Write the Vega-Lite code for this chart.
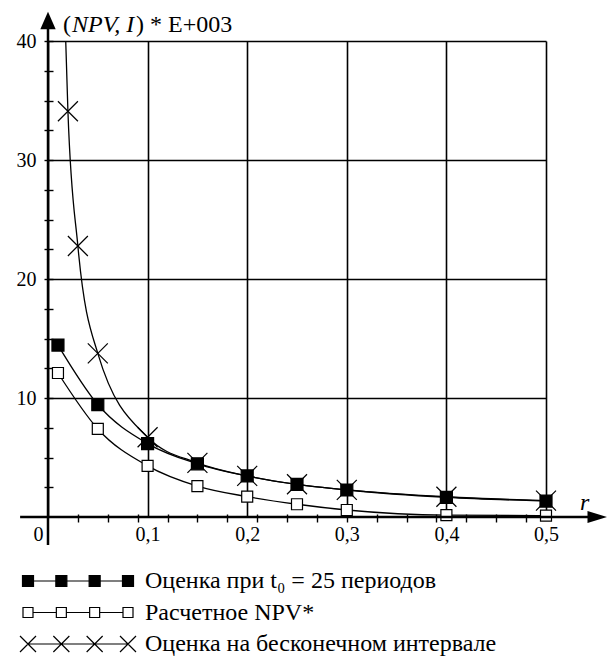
{
  "$schema": "https://vega.github.io/schema/vega-lite/v6.json",
  "width": 498,
  "height": 476,
  "autosize": {"type": "none"},
  "padding": {"left": 48, "top": 41, "right": 64, "bottom": 142},
  "background": "white",
  "config": {
    "view": {"stroke": null},
    "font": "Liberation Serif",
    "axis": {"labelFont": "Liberation Serif", "labelColor": "black", "labelFontSize": 20}
  },
  "datasets": {
    "curves": [
      {"s": "Оценка на бесконечном интервале", "r": 0.0178, "v": 40, "m": false},
      {"s": "Оценка на бесконечном интервале", "r": 0.02, "v": 34.1, "m": true},
      {"s": "Оценка на бесконечном интервале", "r": 0.03, "v": 22.77, "m": true},
      {"s": "Оценка на бесконечном интервале", "r": 0.05, "v": 13.75, "m": true},
      {"s": "Оценка на бесконечном интервале", "r": 0.1, "v": 6.7, "m": true},
      {"s": "Оценка на бесконечном интервале", "r": 0.15, "v": 4.55, "m": true},
      {"s": "Оценка на бесконечном интервале", "r": 0.2, "v": 3.45, "m": true},
      {"s": "Оценка на бесконечном интервале", "r": 0.25, "v": 2.75, "m": true},
      {"s": "Оценка на бесконечном интервале", "r": 0.3, "v": 2.28, "m": true},
      {"s": "Оценка на бесконечном интервале", "r": 0.4, "v": 1.7, "m": true},
      {"s": "Оценка на бесконечном интервале", "r": 0.5, "v": 1.38, "m": true},
      {"s": "Расчетное NPV*", "r": 0.01, "v": 12.1, "m": true},
      {"s": "Расчетное NPV*", "r": 0.05, "v": 7.4, "m": true},
      {"s": "Расчетное NPV*", "r": 0.1, "v": 4.3, "m": true},
      {"s": "Расчетное NPV*", "r": 0.15, "v": 2.6, "m": true},
      {"s": "Расчетное NPV*", "r": 0.2, "v": 1.71, "m": true},
      {"s": "Расчетное NPV*", "r": 0.25, "v": 1.07, "m": true},
      {"s": "Расчетное NPV*", "r": 0.3, "v": 0.59, "m": true},
      {"s": "Расчетное NPV*", "r": 0.4, "v": 0.15, "m": true},
      {"s": "Расчетное NPV*", "r": 0.5, "v": 0.12, "m": true},
      {"s": "Оценка при t₀ = 25 периодов", "r": 0.01, "v": 14.45, "m": true},
      {"s": "Оценка при t₀ = 25 периодов", "r": 0.05, "v": 9.45, "m": true},
      {"s": "Оценка при t₀ = 25 периодов", "r": 0.1, "v": 6.17, "m": true},
      {"s": "Оценка при t₀ = 25 периодов", "r": 0.15, "v": 4.47, "m": true},
      {"s": "Оценка при t₀ = 25 периодов", "r": 0.2, "v": 3.45, "m": true},
      {"s": "Оценка при t₀ = 25 периодов", "r": 0.25, "v": 2.74, "m": true},
      {"s": "Оценка при t₀ = 25 периодов", "r": 0.3, "v": 2.27, "m": true},
      {"s": "Оценка при t₀ = 25 периодов", "r": 0.4, "v": 1.65, "m": true},
      {"s": "Оценка при t₀ = 25 периодов", "r": 0.5, "v": 1.34, "m": true}
    ]
  },
  "resolve": {"axis": {"x": "independent", "y": "independent"}},
  "layer": [
    {
      "data": {"name": "curves"},
      "mark": {"type": "line", "interpolate": "monotone", "color": "black", "strokeWidth": 1.3},
      "encoding": {
        "x": {
          "field": "r", "type": "quantitative",
          "scale": {"domain": [0, 0.5], "nice": false, "zero": false},
          "axis": {
            "orient": "bottom", "title": null,
            "values": [0, 0.1, 0.2, 0.3, 0.4, 0.5],
            "labelExpr": "datum.value === 0 ? '0' : replace(format(datum.value, '.1f'), '.', ',')",
            "ticks": false, "tickSize": 0, "domain": false,
            "grid": true, "gridColor": "black", "gridWidth": 1.6, "gridOpacity": 1,
            "labelPadding": 7, "labelFontSize": 20, "labelFlush": false, "labelOverlap": false,
            "labelOffset": {"condition": {"test": "datum.value === 0", "value": -10}, "value": 0}
          }
        },
        "y": {
          "field": "v", "type": "quantitative",
          "scale": {"domain": [0, 40], "nice": false, "zero": false},
          "axis": {
            "orient": "left", "title": null,
            "values": [10, 20, 30, 40],
            "ticks": false, "tickSize": 0, "domain": false,
            "grid": true, "gridColor": "black", "gridWidth": 1.6, "gridOpacity": 1,
            "labelPadding": 12, "labelFontSize": 20, "labelFlush": false, "labelOverlap": false
          }
        },
        "detail": {"field": "s"}
      }
    },
    {
      "data": {"name": "curves"},
      "transform": [{"filter": "datum.m"}],
      "mark": {"type": "point", "size": 400, "opacity": 1, "stroke": "black", "strokeWidth": 1.2},
      "encoding": {
        "x": {
          "field": "r", "type": "quantitative",
          "scale": {"domain": [0, 0.5], "nice": false, "zero": false},
          "axis": {
            "orient": "bottom", "title": null,
            "values": [0.03, 0.06, 0.09, 0.12, 0.15, 0.18, 0.21, 0.24, 0.27, 0.3, 0.33, 0.36, 0.39, 0.42, 0.45, 0.48],
            "labels": false, "domain": false, "grid": false,
            "ticks": true, "tickSize": 8, "tickWidth": 1.4, "tickColor": "black", "offset": -3
          }
        },
        "y": {
          "field": "v", "type": "quantitative",
          "scale": {"domain": [0, 40], "nice": false, "zero": false},
          "axis": {
            "orient": "left", "title": null,
            "values": [2.5, 5, 7.5, 10, 12.5, 15, 17.5, 20, 22.5, 25, 27.5, 30, 32.5, 35, 37.5, 40],
            "labels": false, "domain": false, "grid": false,
            "ticks": true, "tickSize": 9, "tickWidth": 1.4, "tickColor": "black", "offset": -5
          }
        },
        "shape": {
          "field": "s", "type": "nominal",
          "scale": {
            "domain": ["Оценка на бесконечном интервале", "Расчетное NPV*", "Оценка при t₀ = 25 периодов"],
            "range": ["M-1,-1L1,1M1,-1L-1,1", "M-0.55,-0.55H0.55V0.55H-0.55Z", "M-0.6,-0.6H0.6V0.6H-0.6Z"]
          },
          "legend": null
        },
        "fill": {
          "field": "s", "type": "nominal",
          "scale": {
            "domain": ["Оценка при t₀ = 25 периодов", "Расчетное NPV*", "Оценка на бесконечном интервале"],
            "range": ["black", "white", "transparent"]
          },
          "legend": {
            "orient": "none", "legendX": -32, "legendY": 528, "padding": 0,
            "title": null, "symbolSize": 100, "symbolStrokeWidth": 1.2,
            "symbolType": {"expr": "datum.index === 0 ? 'M0,0H20M-1.1,-1.1H1.1V1.1H-1.1ZM5.57,-1.1H7.77V1.1H5.57ZM12.23,-1.1H14.43V1.1H12.23ZM18.9,-1.1H21.1V1.1H18.9Z' : datum.index === 1 ? 'M1,0H5.67M7.67,0H12.33M14.33,0H19M-1,-1H1V1H-1ZM5.67,-1H7.67V1H5.67ZM12.33,-1H14.33V1H12.33ZM19,-1H21V1H19Z' : 'M0,0H20M-1.6,-1.6L1.6,1.6M-1.6,1.6L1.6,-1.6M5.07,-1.6L8.27,1.6M5.07,1.6L8.27,-1.6M11.73,-1.6L14.93,1.6M11.73,1.6L14.93,-1.6M18.4,-1.6L21.6,1.6M18.4,1.6L21.6,-1.6'"},
            "labelFont": "Liberation Serif", "labelFontSize": 24, "labelColor": "black",
            "labelLimit": 600, "labelOffset": 105, "rowPadding": 7.5,
            "encode": {
              "symbols": {
                "stroke": {"value": "black"},
                "strokeWidth": {"value": 1.2},
                "opacity": {"value": 1}
              }
            }
          }
        }
      }
    },
    {
      "data": {"values": [{}]},
      "mark": {"type": "rule", "color": "black", "strokeWidth": 2.5},
      "encoding": {
        "x": {"datum": -0.028, "type": "quantitative", "axis": null},
        "x2": {"datum": 0.553},
        "y": {"datum": 0, "type": "quantitative", "axis": null}
      }
    },
    {
      "data": {"values": [{}]},
      "mark": {"type": "rule", "color": "black", "strokeWidth": 2.5},
      "encoding": {
        "x": {"datum": 0, "type": "quantitative", "axis": null},
        "y": {"datum": -2.35, "type": "quantitative", "axis": null},
        "y2": {"datum": 41.7}
      }
    },
    {
      "data": {"values": [{}]},
      "mark": {"type": "point", "shape": "M0,-1L0.85,0.95L-0.85,0.95Z", "size": 324, "filled": true, "color": "black", "opacity": 1},
      "encoding": {
        "x": {"datum": 0, "type": "quantitative", "axis": null},
        "y": {"datum": 41.71, "type": "quantitative", "axis": null}
      }
    },
    {
      "data": {"values": [{}]},
      "mark": {"type": "point", "shape": "M1,0L-0.95,0.6L-0.95,-0.6Z", "size": 400, "filled": true, "color": "black", "opacity": 1},
      "encoding": {
        "x": {"datum": 0.5512, "type": "quantitative", "axis": null},
        "y": {"datum": 0, "type": "quantitative", "axis": null}
      }
    },
    {
      "data": {"values": [{}]},
      "mark": {"type": "text", "text": "(", "font": "Liberation Serif", "fontSize": 24, "align": "left", "baseline": "alphabetic", "color": "black"},
      "encoding": {
        "x": {"datum": 0.01506, "type": "quantitative", "axis": null},
        "y": {"datum": 40.78, "type": "quantitative", "axis": null}
      }
    },
    {
      "data": {"values": [{}]},
      "mark": {"type": "text", "text": "NPV, I", "font": "Liberation Serif", "fontStyle": "italic", "fontSize": 24, "align": "left", "baseline": "alphabetic", "color": "black", "dx": 9},
      "encoding": {
        "x": {"datum": 0.01506, "type": "quantitative", "axis": null},
        "y": {"datum": 40.78, "type": "quantitative", "axis": null}
      }
    },
    {
      "data": {"values": [{}]},
      "mark": {"type": "text", "text": ") * E+003", "font": "Liberation Serif", "fontSize": 24, "align": "left", "baseline": "alphabetic", "color": "black", "dx": 73},
      "encoding": {
        "x": {"datum": 0.01506, "type": "quantitative", "axis": null},
        "y": {"datum": 40.78, "type": "quantitative", "axis": null}
      }
    },
    {
      "data": {"values": [{}]},
      "mark": {"type": "text", "text": "r", "font": "Liberation Serif", "fontStyle": "italic", "fontSize": 24, "align": "left", "baseline": "alphabetic", "color": "black"},
      "encoding": {
        "x": {"datum": 0.5341, "type": "quantitative", "axis": null},
        "y": {"datum": 0.59, "type": "quantitative", "axis": null}
      }
    }
  ]
}
